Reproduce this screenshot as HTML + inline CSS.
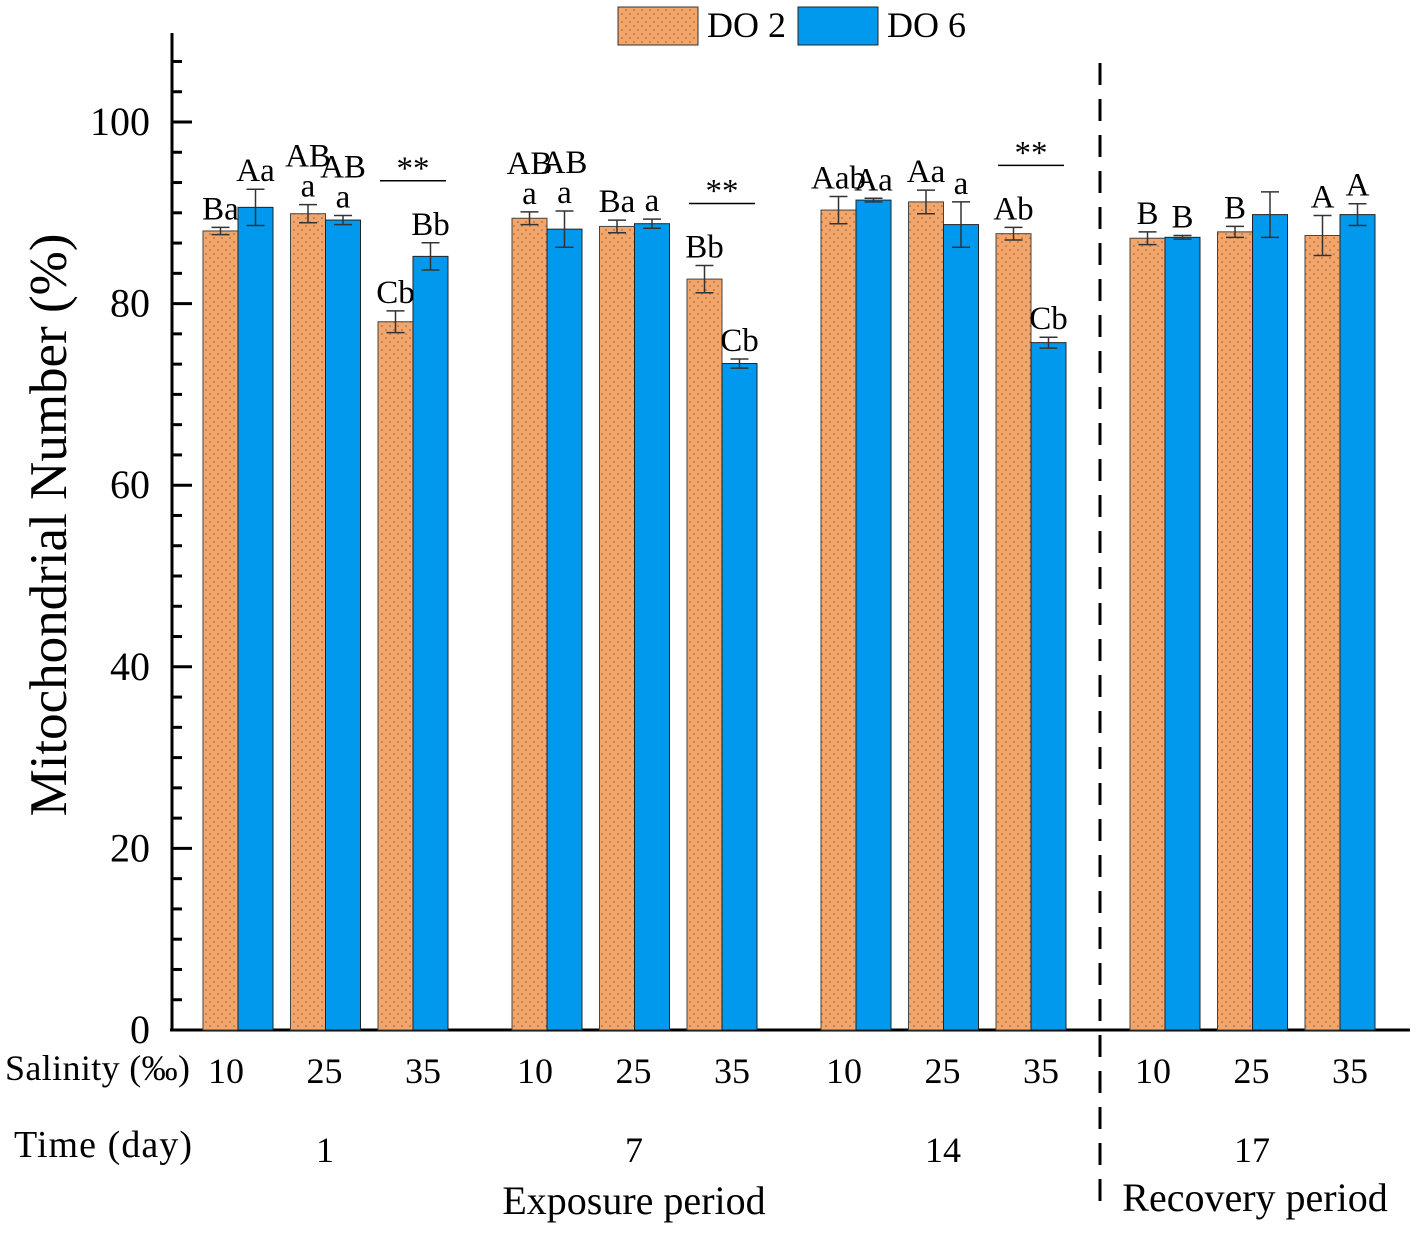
<!DOCTYPE html>
<html><head><meta charset="utf-8"><style>
body{margin:0;background:#fff;}
svg text{font-family:"Liberation Serif",serif;fill:#000;}
</style></head><body>
<svg id="chart" width="1417" height="1232" viewBox="0 0 1417 1232">
<defs>
<pattern id="dots" width="8" height="8" patternUnits="userSpaceOnUse">
<rect width="8" height="8" fill="#F2A66C"/>
<circle cx="2" cy="2" r="0.8" fill="#9a5a2a"/>
<circle cx="6" cy="6" r="0.8" fill="#9a5a2a"/>
</pattern>
</defs>
<g id="plot"></g>
</svg>
<script>
const salinity = ["10","25","35"];
const days = ["1","7","14","17"];
const do2Values = [88.0,89.9,78.0, 89.4,88.5,82.7, 90.3,91.2,87.7, 87.2,87.9,87.5];
const do2Errors = [0.4,1.0,1.2, 0.7,0.7,1.5, 1.5,1.3,0.7, 0.7,0.6,2.2];
const do6Values = [90.6,89.2,85.2, 88.2,88.8,73.4, 91.4,88.7,75.7, 87.3,89.8,89.8];
const do6Errors = [2.0,0.5,1.5, 2.0,0.5,0.5, 0.2,2.5,0.6, 0.2,2.5,1.2];
const do2Labels = [["Ba"],["AB","a"],["Cb"], ["AB","a"],["Ba"],["Bb"], ["Aab"],["Aa"],["Ab"], ["B"],["B"],["A"]];
const do6Labels = [["Aa"],["AB","a"],["Bb"], ["AB","a"],["a"],["Cb"], ["Aa"],["a"],["Cb"], ["B"],[""],["A"]];
const starGroups = [2,5,8];
const yTicks = [0,20,40,60,80,100];

const NS="http://www.w3.org/2000/svg";
const g=document.getElementById('plot');
function el(t,a,txt){const e=document.createElementNS(NS,t);for(const k in a)e.setAttribute(k,a[k]);if(txt!==undefined)e.textContent=txt;g.appendChild(e);return e;}
const y0=1030, k=9.08;
function Y(v){return y0-v*k;}
function pairCenter(i){const grp=Math.floor(i/3), j=i%3;return 238+grp*309+j*87.5;}
const bw=35;

let ax=el('line',{x1:172,y1:33,x2:172,y2:1031,stroke:'#000','stroke-width':3});

let xa=el('line',{x1:170,y1:1030,x2:1410,y2:1030,stroke:'#000','stroke-width':3});

for(let v=0;v<=109;v+=20/6){
  const major=Math.abs(v/20-Math.round(v/20))<1e-6;
  const t=el('line',{x1:172,y1:Y(v),x2:major?192:182,y2:Y(v),stroke:'#000','stroke-width':3});
  
}
yTicks.forEach(v=>{
  const t=el('text',{x:150,y:Y(v)+13,'font-size':40,'text-anchor':'end'},String(v));
  
});
const yl=el('text',{x:0,y:0,'font-size':53,'text-anchor':'middle',transform:'translate(66,525) rotate(-90)'},'Mitochondrial Number (%)');


function errbar(cx,v,e){
  const l=el('line',{x1:cx,y1:Y(v+e),x2:cx,y2:Y(v-e),stroke:'#333','stroke-width':1.5});
  
  [v+e,v-e].forEach(w=>{const c=el('line',{x1:cx-9,y1:Y(w),x2:cx+9,y2:Y(w),stroke:'#333','stroke-width':1.5});
  });
}
function labels(cx,top,lines){
  lines.forEach((s,i)=>{
    const t=el('text',{x:cx,y:top-8-(lines.length-1-i)*30,'font-size':33,'text-anchor':'middle'},s);
    
  });
}
do2Values.forEach((v,i)=>{
  const c=pairCenter(i);
  const r=el('rect',{x:c-bw,y:Y(v),width:bw,height:y0-Y(v),fill:'url(#dots)',stroke:'#444','stroke-width':1});
  
  const b=el('rect',{x:c,y:Y(do6Values[i]),width:bw,height:y0-Y(do6Values[i]),fill:'#0099EE',stroke:'#222','stroke-width':1});
  
  errbar(c-bw/2,v,do2Errors[i]);errbar(c+bw/2,do6Values[i],do6Errors[i]);
  labels(c-bw/2,Y(v+do2Errors[i]),do2Labels[i]);
  labels(c+bw/2,Y(do6Values[i]+do6Errors[i]),do6Labels[i]);
  const grp=Math.floor(i/3), j=i%3;
  const sl=el('text',{x:226+grp*309+j*98.5,y:1083,'font-size':36,'text-anchor':'middle'},salinity[j]);
  
});
starGroups.forEach(i=>{
  const c=pairCenter(i);
  const top=Math.max(do2Values[i]+do2Errors[i],do6Values[i]+do6Errors[i]);
  const ly=Y(top)-62;
  const l=el('line',{x1:c-33,y1:ly,x2:c+33,y2:ly,stroke:'#000','stroke-width':1.5});
  
  const t=el('text',{x:c,y:ly-2,'font-size':33,'text-anchor':'middle'},'**');
  
});
days.forEach((d,gi)=>{
  const t=el('text',{x:325+gi*309,y:1162,'font-size':36,'text-anchor':'middle'},d);
  
});
let t;
t=el('text',{x:5,y:1080,'font-size':36,textLength:185},'Salinity (‰)');
t=el('text',{x:14,y:1157,'font-size':38,textLength:178},'Time (day)');
t=el('text',{x:634,y:1214,'font-size':40,'text-anchor':'middle'},'Exposure period');
t=el('text',{x:1255,y:1211,'font-size':40,'text-anchor':'middle'},'Recovery period');
t=el('line',{x1:1100,y1:63,x2:1100,y2:1205,stroke:'#000','stroke-width':3,'stroke-dasharray':'22,14'});
t=el('rect',{x:618,y:7,width:80,height:38,fill:'url(#dots)',stroke:'#333','stroke-width':1});
t=el('text',{x:707,y:37,'font-size':36}, 'DO 2');
t=el('rect',{x:798,y:7,width:80,height:38,fill:'#0099EE',stroke:'#222','stroke-width':1});
t=el('text',{x:887,y:37,'font-size':36},'DO 6');
</script>
</body></html>
